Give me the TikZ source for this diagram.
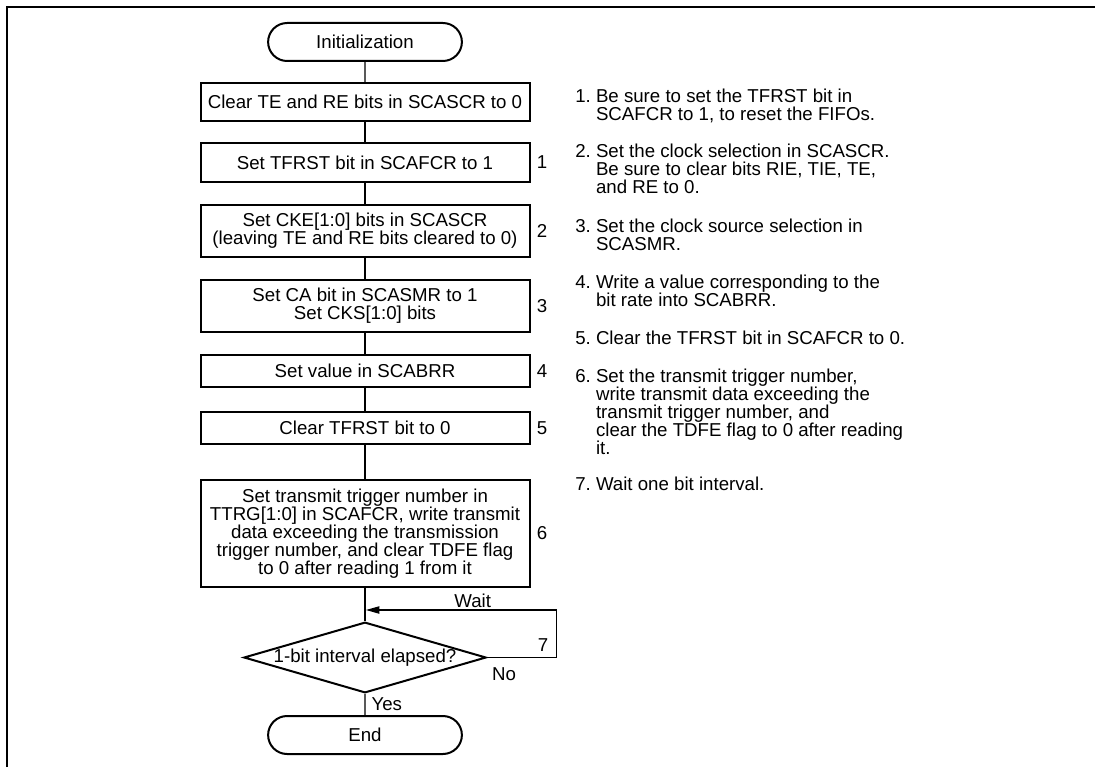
\documentclass[tikz,border=0pt]{standalone}
\usepackage{fontspec}
\setmainfont{Liberation Sans}
\usetikzlibrary{positioning, arrows.meta, shapes.geometric, shapes.misc}

\newcommand{\flowfont}{\fontsize{14pt}{13.5pt}\selectfont}
\newcommand{\noteind}{\hphantom{1.\ }}

\begin{document}
\begin{tikzpicture}[
		x=0.75pt, y=-0.75pt,
		>={Triangle[length=10pt, width=5.5pt]},
		% Process boxes (all share the same width)
		opbox/.style={
				rectangle, draw=black, line width=1.5pt,
				minimum width=246.75pt, minimum height=#1,
				inner sep=2pt, align=center, font=\flowfont
			},
		% Start / end terminals
		termbox/.style={
				rounded rectangle, draw=black, line width=1.5pt,
				minimum width=152pt, minimum height=28.5pt, font=\flowfont
			},
		% Decision
		testbox/.style={
				diamond, aspect=3.43, draw=black, line width=1.5pt, inner sep=0pt,
				minimum width=177.75pt, minimum height=51.75pt, font=\flowfont
			},
		% Labels and notes
		numlbl/.style={inner sep=0pt, font=\flowfont},
		edgelbl/.style={inner sep=0pt, font=\flowfont},
		notetext/.style={anchor=north west, inner sep=0pt, align=left, font=\flowfont},
		flowline/.style={line width=0.8pt}
	]
	\useasboundingbox (0,0) rectangle (1095,767);

	% ==========================================
	% 1. FRAME (top and left edges only)
	% ==========================================
	\draw[line width=2pt] (7,767) -- (7,7) -- (1095,7);

	% ==========================================
	% 2. MAIN FLOW (X=365)
	% ==========================================
	\node[termbox] (init) at (365, 42) {Initialization};
	\node[opbox=28.5pt] (clrte) at (365, 102) {Clear TE and RE bits in SCASCR to 0};
	\node[opbox=29pt] (tfrst) at (365, 162.5) {Set TFRST bit in SCAFCR to 1};
	\node[opbox=39pt] (cke) at (365, 231) {Set CKE[1:0] bits in SCASCR\\(leaving TE and RE bits cleared to 0)};
	\node[opbox=39pt] (cabit) at (365, 306) {Set CA bit in SCASMR to 1\\Set CKS[1:0] bits};
	\node[opbox=24pt] (brr) at (365, 371) {Set value in SCABRR};
	\node[opbox=24pt] (clrtf) at (365, 428) {Clear TFRST bit to 0};
	\node[opbox=80pt] (ttrg) at (365, 533.5) {Set transmit trigger number in\\TTRG[1:0] in SCAFCR, write transmit\\data exceeding the transmission\\trigger number, and clear TDFE flag\\to 0 after reading 1 from it};
	\node[testbox] (elapsed) at (365, 657.5) {1-bit interval elapsed?};
	\node[termbox] (end) at (365, 735) {End};

	% step numbers beside the boxes
	\node[numlbl, right=4.5pt of tfrst] {1};
	\node[numlbl, right=4.5pt of cke] {2};
	\node[numlbl, right=4.5pt of cabit] {3};
	\node[numlbl, right=4.5pt of brr] {4};
	\node[numlbl, right=4.5pt of clrtf] {5};
	\node[numlbl, right=4.5pt of ttrg] {6};

	% ==========================================
	% 3. CONNECTORS
	% ==========================================
	\foreach \a/\b in {init/clrte, clrte/tfrst, tfrst/cke, cke/cabit, cabit/brr, brr/clrtf, clrtf/ttrg, ttrg/elapsed}
	\draw[flowline] (\a) -- (\b);
	\draw[flowline] (elapsed) -- node[edgelbl, right=4.5pt] {Yes} (end);

	% wait loop back onto the main line
	\coordinate (loopc) at ([xshift=52pt]elapsed.east);
	\coordinate (loopin) at (366, 610);
	\draw[flowline, ->] (elapsed.east) -- (loopc) |- node[edgelbl, above=1.5pt, pos=0.72] {Wait} (loopin);
	\node[numlbl, above left=4.5pt and 6pt of loopc] {7};
	\node[edgelbl, below right=7.5pt and 3.5pt of elapsed.east] {No};

	% ==========================================
	% 4. NOTES (RIGHT, X=575)
	% ==========================================
	\node[notetext] (note1) at (575, 88.5) {1.\ Be sure to set the TFRST bit in\\\noteind SCAFCR to 1, to reset the FIFOs.};
	\node[notetext] (note2) at (575, 144) {2.\ Set the clock selection in SCASCR.\\\noteind Be sure to clear bits RIE, TIE, TE,\\\noteind and RE to 0.};
	\node[notetext] (note3) at (575, 218.5) {3.\ Set the clock source selection in\\\noteind SCASMR.};
	\node[notetext] (note4) at (575, 274.5) {4.\ Write a value corresponding to the\\\noteind bit rate into SCABRR.};
	\node[notetext] (note5) at (575, 330.5) {5.\ Clear the TFRST bit in SCAFCR to 0.};
	\node[notetext] (note6) at (575, 368.5) {6.\ Set the transmit trigger number,\\\noteind write transmit data exceeding the\\\noteind transmit trigger number, and\\\noteind clear the TDFE flag to 0 after reading\\\noteind it.};
	\node[notetext] (note7) at (575, 477) {7.\ Wait one bit interval.};

\end{tikzpicture}
\end{document}
